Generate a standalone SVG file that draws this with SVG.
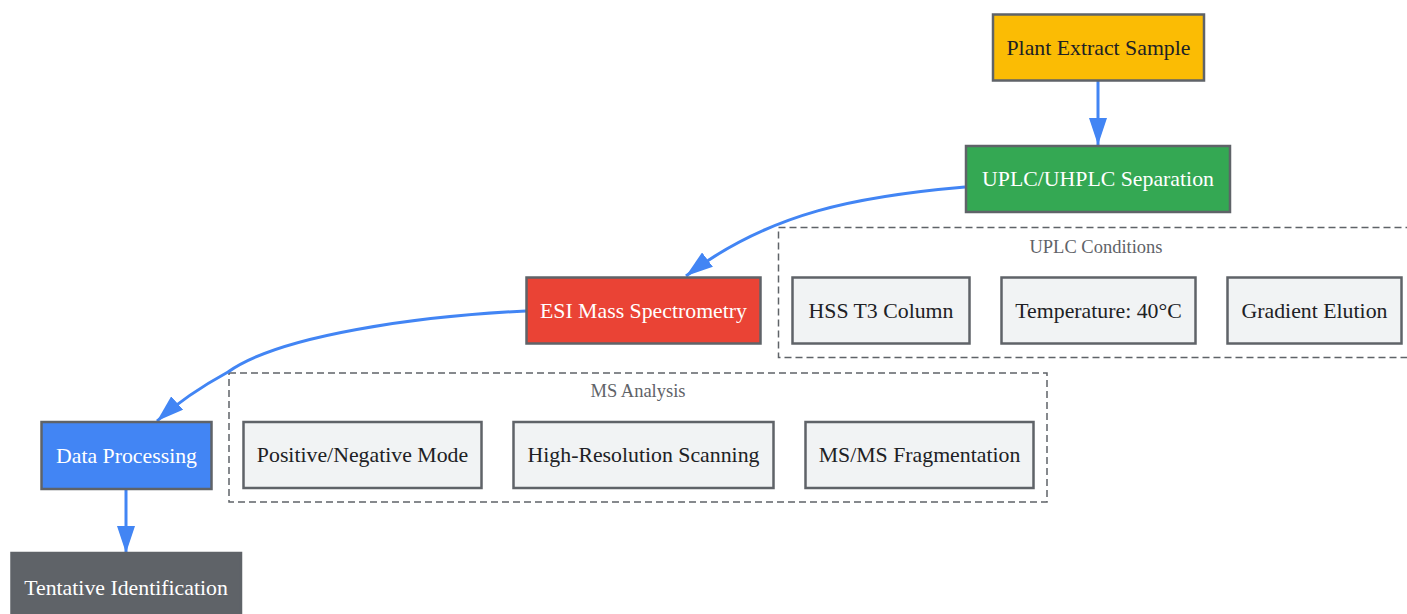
<svg xmlns="http://www.w3.org/2000/svg" width="1407" height="614" viewBox="0 0 1407 614">
<style>
.n rect{stroke:#5f6368;stroke-width:2.5}
.t{font-family:"Liberation Serif","Times New Roman",serif;font-size:21.8px;text-anchor:middle;dominant-baseline:central}
.dark{fill:#202124}
.light{fill:#ffffff}
.cl{fill:none;stroke:#5f6368;stroke-width:1.5;stroke-dasharray:7 4}
.ct{font-family:"Liberation Serif","Times New Roman",serif;font-size:18.5px;fill:#5f6368;text-anchor:middle;dominant-baseline:central}
.sub rect{fill:#f1f3f4}
.e{fill:none;stroke:#4285f4;stroke-width:3}
</style>
<defs>
<marker id="ah" markerUnits="userSpaceOnUse" markerWidth="28" markerHeight="18" refX="27" refY="9" orient="auto">
<path d="M0,0 L27,9 L0,18 Z" fill="#4285f4"/>
</marker>
</defs>
<rect width="1407" height="614" fill="#ffffff"/>
<g id="clusters">
<g id="uplc-conditions">
<rect class="cl" x="778.5" y="227.5" width="640" height="130"/>
<text class="ct" x="1096" y="247">UPLC Conditions</text>
</g>
<g id="ms-analysis">
<rect class="cl" x="229" y="373" width="818" height="129"/>
<text class="ct" x="638" y="391">MS Analysis</text>
</g>
</g>
<g id="connectors">
<path class="e" d="M1098,81 L1098,145" marker-end="url(#ah)"/>
<path class="e" d="M965,187 C860,196 770,212 686,276" marker-end="url(#ah)"/>
<path class="e" d="M526,311 C420,316 280,335 228,372 C195,390 175,405 157,421" marker-end="url(#ah)"/>
<path class="e" d="M126,489 L126,553" marker-end="url(#ah)"/>
</g>
<g id="plant" class="n"><rect x="993" y="14.5" width="211" height="66" fill="#fbbc04"/><text class="t dark" x="1098.5" y="47.5">Plant Extract Sample</text></g>
<g id="uplc" class="n"><rect x="966" y="146" width="264" height="66" fill="#34a853"/><text class="t light" x="1098" y="179">UPLC/UHPLC Separation</text></g>
<g id="esi" class="n"><rect x="526.5" y="277.5" width="234" height="66" fill="#ea4335"/><text class="t light" x="643.5" y="310.5">ESI Mass Spectrometry</text></g>
<g id="dp" class="n"><rect x="41.5" y="422" width="170" height="67" fill="#4285f4"/><text class="t light" x="126.5" y="455.5">Data Processing</text></g>
<g id="tent" class="n"><rect x="11.5" y="553" width="229.5" height="70" fill="#5f6368"/><text class="t light" x="126" y="587.5">Tentative Identification</text></g>
<g id="hss" class="n sub"><rect x="792.5" y="277.5" width="177" height="66"/><text class="t dark" x="881" y="310.5">HSS T3 Column</text></g>
<g id="temp" class="n sub"><rect x="1001.5" y="277.5" width="194" height="66"/><text class="t dark" x="1098.5" y="310.5">Temperature: 40°C</text></g>
<g id="grad" class="n sub"><rect x="1227.5" y="277.5" width="174" height="66"/><text class="t dark" x="1314.5" y="310.5">Gradient Elution</text></g>
<g id="pos" class="n sub"><rect x="243.5" y="422" width="238" height="66"/><text class="t dark" x="362.5" y="455">Positive/Negative Mode</text></g>
<g id="hrs" class="n sub"><rect x="513.5" y="422" width="260" height="66"/><text class="t dark" x="643.5" y="455">High-Resolution Scanning</text></g>
<g id="msms" class="n sub"><rect x="805.5" y="422" width="228" height="66"/><text class="t dark" x="919.5" y="455">MS/MS Fragmentation</text></g>
</svg>
